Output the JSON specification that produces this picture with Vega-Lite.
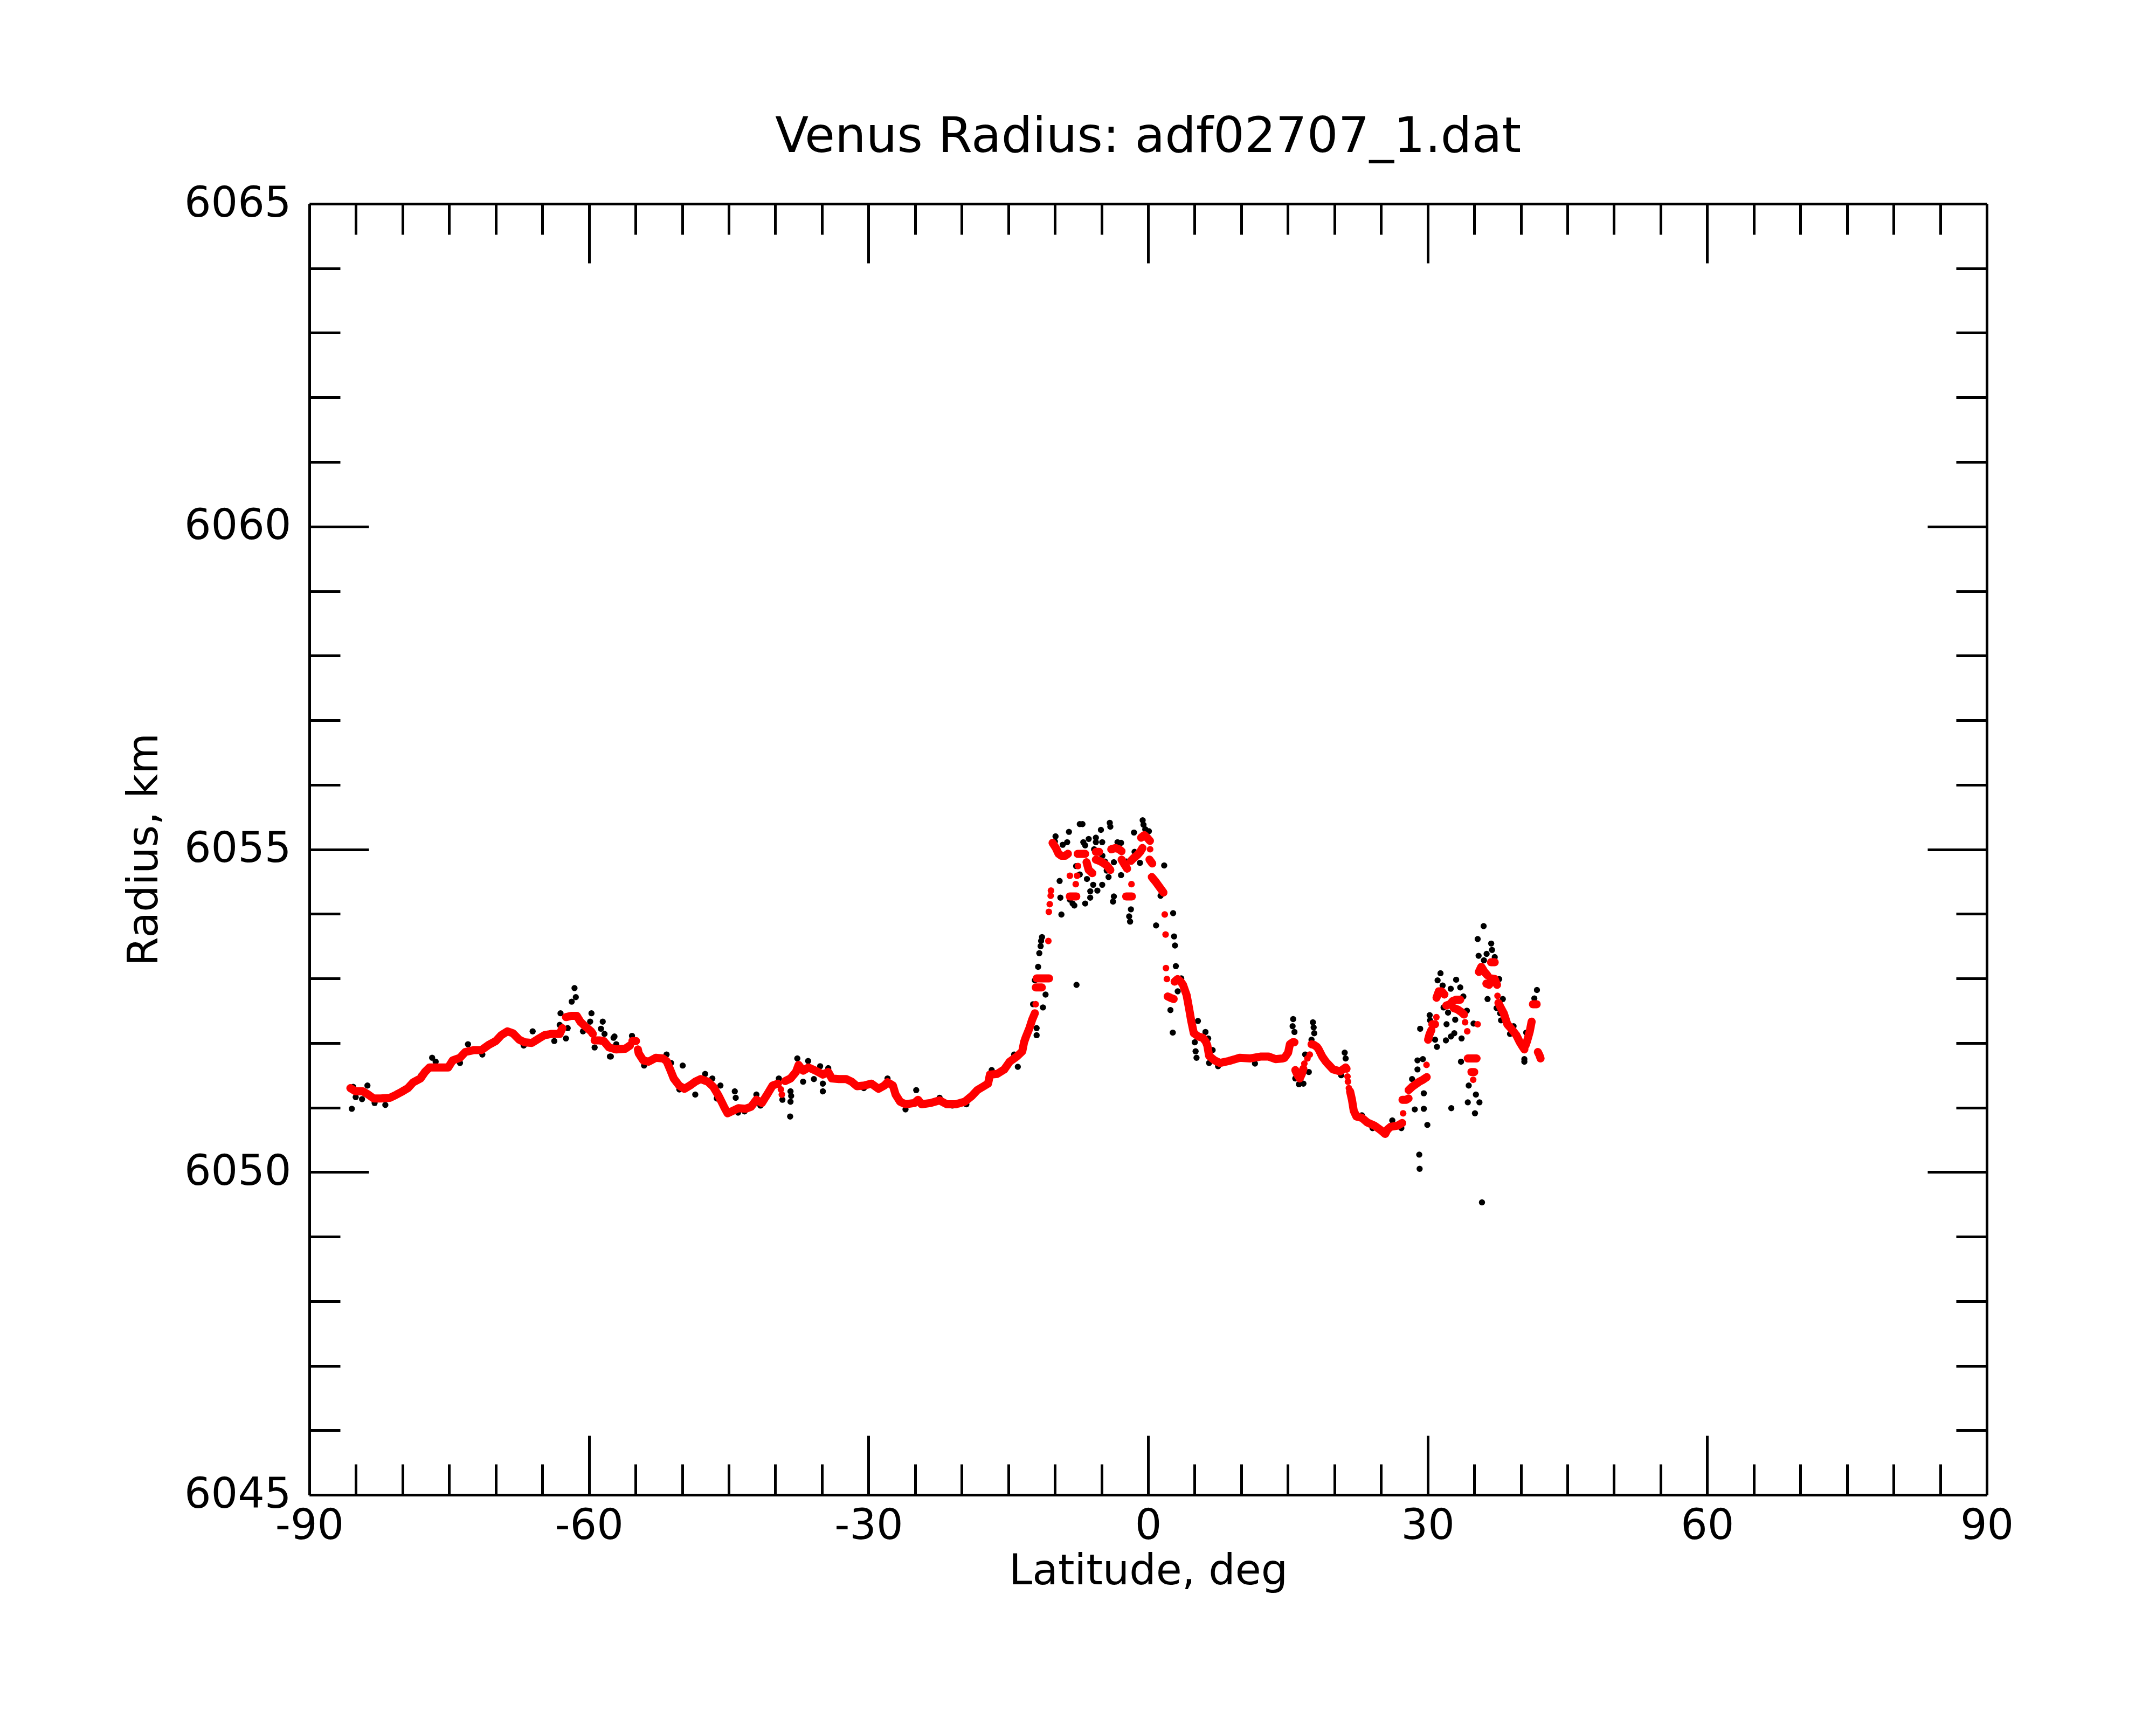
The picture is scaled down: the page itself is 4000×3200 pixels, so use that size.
{
  "$schema": "https://vega.github.io/schema/vega-lite/v6.json",
  "width": 3112,
  "height": 2395,
  "autosize": "none",
  "padding": {"left": 574, "top": 378, "right": 314, "bottom": 427},
  "background": "white",
  "config": {"view": {"stroke": null}, "font": "DejaVu Sans"},
  "title": {
    "text": "Venus Radius: adf02707_1.dat",
    "fontSize": 91,
    "font": "DejaVu Sans",
    "fontWeight": "normal",
    "color": "black",
    "anchor": "middle",
    "offset": 38
  },
  "datasets": {
    "raw": [
      {"lat": -85.45, "r": 6050.98}, {"lat": -85.30, "r": 6051.32}, {"lat": -85.03, "r": 6051.16}, {"lat": -84.35, "r": 6051.13},
      {"lat": -83.77, "r": 6051.34}, {"lat": -83.00, "r": 6051.07}, {"lat": -81.85, "r": 6051.04}, {"lat": -80.60, "r": 6051.22},
      {"lat": -78.00, "r": 6051.50}, {"lat": -76.83, "r": 6051.77}, {"lat": -76.45, "r": 6051.71}, {"lat": -73.84, "r": 6051.69},
      {"lat": -72.98, "r": 6051.98}, {"lat": -71.44, "r": 6051.82}, {"lat": -67.00, "r": 6051.96}, {"lat": -66.04, "r": 6052.18},
      {"lat": -65.00, "r": 6052.09}, {"lat": -63.72, "r": 6052.03}, {"lat": -63.14, "r": 6052.28}, {"lat": -63.05, "r": 6052.46},
      {"lat": -62.47, "r": 6052.07}, {"lat": -62.28, "r": 6052.23}, {"lat": -61.85, "r": 6052.64}, {"lat": -61.55, "r": 6052.85},
      {"lat": -61.41, "r": 6052.71}, {"lat": -60.64, "r": 6052.18}, {"lat": -59.87, "r": 6052.33}, {"lat": -59.73, "r": 6052.46},
      {"lat": -59.39, "r": 6051.93}, {"lat": -58.71, "r": 6052.22}, {"lat": -58.52, "r": 6052.33}, {"lat": -58.33, "r": 6052.14},
      {"lat": -57.75, "r": 6051.79}, {"lat": -57.36, "r": 6052.08}, {"lat": -57.65, "r": 6051.79}, {"lat": -57.26, "r": 6052.10},
      {"lat": -57.07, "r": 6051.98}, {"lat": -55.38, "r": 6052.11}, {"lat": -54.08, "r": 6051.65}, {"lat": -51.67, "r": 6051.82},
      {"lat": -51.19, "r": 6051.69}, {"lat": -50.30, "r": 6051.28}, {"lat": -49.94, "r": 6051.65}, {"lat": -48.59, "r": 6051.20},
      {"lat": -47.53, "r": 6051.52}, {"lat": -46.76, "r": 6051.45}, {"lat": -46.28, "r": 6051.14}, {"lat": -45.89, "r": 6051.34},
      {"lat": -44.35, "r": 6051.25}, {"lat": -44.25, "r": 6051.15}, {"lat": -44.00, "r": 6050.92}, {"lat": -43.30, "r": 6050.94},
      {"lat": -42.03, "r": 6051.20}, {"lat": -41.60, "r": 6051.03}, {"lat": -39.62, "r": 6051.45}, {"lat": -39.24, "r": 6051.12},
      {"lat": -38.41, "r": 6050.86}, {"lat": -38.37, "r": 6051.25}, {"lat": -38.30, "r": 6051.18}, {"lat": -38.37, "r": 6051.09},
      {"lat": -37.64, "r": 6051.76}, {"lat": -37.02, "r": 6051.40}, {"lat": -36.48, "r": 6051.72}, {"lat": -35.86, "r": 6051.44},
      {"lat": -35.19, "r": 6051.64}, {"lat": -34.90, "r": 6051.37}, {"lat": -34.90, "r": 6051.25}, {"lat": -34.32, "r": 6051.61},
      {"lat": -31.50, "r": 6051.35}, {"lat": -30.50, "r": 6051.30}, {"lat": -27.96, "r": 6051.45}, {"lat": -26.03, "r": 6050.97},
      {"lat": -24.88, "r": 6051.27}, {"lat": -22.37, "r": 6051.15}, {"lat": -21.00, "r": 6051.03}, {"lat": -19.50, "r": 6051.05},
      {"lat": -16.78, "r": 6051.58}, {"lat": -14.37, "r": 6051.82}, {"lat": -13.98, "r": 6051.63}, {"lat": -12.34, "r": 6052.60},
      {"lat": -12.15, "r": 6052.97}, {"lat": -11.96, "r": 6052.23}, {"lat": -11.96, "r": 6052.12}, {"lat": -11.28, "r": 6052.55},
      {"lat": -11.00, "r": 6052.75}, {"lat": -7.68, "r": 6052.90}, {"lat": -11.80, "r": 6053.18}, {"lat": -11.67, "r": 6053.39},
      {"lat": -11.53, "r": 6053.50}, {"lat": -11.48, "r": 6053.58}, {"lat": -11.38, "r": 6053.64}, {"lat": -10.00, "r": 6055.12},
      {"lat": -9.93, "r": 6055.20}, {"lat": -9.49, "r": 6054.51}, {"lat": -9.41, "r": 6054.25}, {"lat": -9.30, "r": 6053.99},
      {"lat": -9.16, "r": 6055.07}, {"lat": -8.68, "r": 6055.11}, {"lat": -8.49, "r": 6055.27}, {"lat": -8.39, "r": 6054.22},
      {"lat": -8.10, "r": 6054.16}, {"lat": -7.91, "r": 6054.13}, {"lat": -7.72, "r": 6054.74}, {"lat": -7.62, "r": 6054.92},
      {"lat": -7.33, "r": 6055.39}, {"lat": -7.33, "r": 6054.61}, {"lat": -7.04, "r": 6055.39}, {"lat": -6.95, "r": 6055.11},
      {"lat": -6.75, "r": 6055.06}, {"lat": -6.75, "r": 6054.16}, {"lat": -6.56, "r": 6054.73}, {"lat": -6.56, "r": 6054.54},
      {"lat": -6.37, "r": 6055.16}, {"lat": -6.21, "r": 6054.25}, {"lat": -6.20, "r": 6054.35}, {"lat": -5.89, "r": 6054.45},
      {"lat": -5.79, "r": 6055.00}, {"lat": -5.60, "r": 6055.18}, {"lat": -5.60, "r": 6055.11}, {"lat": -5.44, "r": 6054.36},
      {"lat": -5.06, "r": 6055.30}, {"lat": -4.92, "r": 6055.11}, {"lat": -4.92, "r": 6054.45}, {"lat": -4.90, "r": 6054.90},
      {"lat": -4.63, "r": 6054.81}, {"lat": -4.44, "r": 6054.67}, {"lat": -4.24, "r": 6054.57}, {"lat": -4.11, "r": 6055.41},
      {"lat": -4.05, "r": 6055.35}, {"lat": -3.76, "r": 6054.19}, {"lat": -3.67, "r": 6054.80}, {"lat": -3.67, "r": 6054.27},
      {"lat": -3.28, "r": 6055.11}, {"lat": -3.19, "r": 6055.07}, {"lat": -2.90, "r": 6055.10}, {"lat": -2.90, "r": 6054.60},
      {"lat": -2.32, "r": 6054.81}, {"lat": -2.03, "r": 6053.96}, {"lat": -1.93, "r": 6053.88}, {"lat": -1.84, "r": 6054.07},
      {"lat": -1.51, "r": 6055.26}, {"lat": -1.45, "r": 6054.96}, {"lat": -0.87, "r": 6054.79}, {"lat": -0.58, "r": 6055.45},
      {"lat": -0.49, "r": 6055.38}, {"lat": -0.30, "r": 6055.31}, {"lat": 0.09, "r": 6055.28}, {"lat": 0.86, "r": 6053.82},
      {"lat": 1.34, "r": 6054.40}, {"lat": 1.34, "r": 6054.28}, {"lat": 1.73, "r": 6054.75}, {"lat": 2.40, "r": 6052.51},
      {"lat": 2.69, "r": 6054.01}, {"lat": 2.79, "r": 6053.65}, {"lat": 2.89, "r": 6053.51}, {"lat": 2.98, "r": 6053.19},
      {"lat": 3.18, "r": 6052.80}, {"lat": 3.56, "r": 6053.00}, {"lat": 2.65, "r": 6052.16}, {"lat": 5.01, "r": 6052.01},
      {"lat": 5.10, "r": 6051.87}, {"lat": 5.20, "r": 6051.77}, {"lat": 5.35, "r": 6052.34}, {"lat": 6.16, "r": 6052.17},
      {"lat": 6.45, "r": 6052.07}, {"lat": 6.55, "r": 6051.69}, {"lat": 6.93, "r": 6051.89}, {"lat": 7.51, "r": 6051.64},
      {"lat": 11.47, "r": 6051.68}, {"lat": 15.51, "r": 6052.26}, {"lat": 15.57, "r": 6052.37}, {"lat": 15.71, "r": 6052.17},
      {"lat": 15.80, "r": 6051.45}, {"lat": 16.19, "r": 6051.36}, {"lat": 16.67, "r": 6051.37}, {"lat": 16.86, "r": 6051.82},
      {"lat": 17.25, "r": 6051.55}, {"lat": 17.54, "r": 6052.05}, {"lat": 17.69, "r": 6052.32}, {"lat": 17.77, "r": 6052.24},
      {"lat": 17.83, "r": 6052.15}, {"lat": 20.72, "r": 6051.50}, {"lat": 21.10, "r": 6051.85}, {"lat": 21.20, "r": 6051.76},
      {"lat": 22.94, "r": 6050.88}, {"lat": 24.09, "r": 6050.68}, {"lat": 26.21, "r": 6050.80}, {"lat": 27.18, "r": 6050.68},
      {"lat": 28.33, "r": 6051.44}, {"lat": 28.62, "r": 6050.97}, {"lat": 28.91, "r": 6051.73}, {"lat": 28.91, "r": 6051.59},
      {"lat": 29.10, "r": 6050.27}, {"lat": 29.14, "r": 6050.05}, {"lat": 29.20, "r": 6052.22}, {"lat": 29.49, "r": 6051.75},
      {"lat": 29.59, "r": 6051.22}, {"lat": 29.59, "r": 6050.98}, {"lat": 29.97, "r": 6050.73}, {"lat": 30.22, "r": 6052.43},
      {"lat": 30.26, "r": 6052.35}, {"lat": 30.80, "r": 6052.05}, {"lat": 31.00, "r": 6051.94}, {"lat": 31.07, "r": 6052.97},
      {"lat": 31.38, "r": 6053.08}, {"lat": 31.61, "r": 6052.89}, {"lat": 31.71, "r": 6052.55}, {"lat": 31.96, "r": 6052.04},
      {"lat": 32.03, "r": 6052.29}, {"lat": 32.19, "r": 6052.47}, {"lat": 32.48, "r": 6052.84}, {"lat": 32.50, "r": 6052.10},
      {"lat": 32.54, "r": 6050.99}, {"lat": 32.86, "r": 6052.15}, {"lat": 32.96, "r": 6052.36}, {"lat": 33.06, "r": 6052.98},
      {"lat": 33.50, "r": 6052.86}, {"lat": 33.58, "r": 6051.71}, {"lat": 33.64, "r": 6052.07}, {"lat": 33.83, "r": 6052.72},
      {"lat": 34.21, "r": 6052.50}, {"lat": 34.31, "r": 6051.08}, {"lat": 34.41, "r": 6051.34}, {"lat": 34.93, "r": 6052.30},
      {"lat": 35.08, "r": 6050.91}, {"lat": 35.18, "r": 6051.20}, {"lat": 35.37, "r": 6053.61}, {"lat": 35.47, "r": 6053.35},
      {"lat": 35.56, "r": 6051.08}, {"lat": 35.83, "r": 6049.53}, {"lat": 36.01, "r": 6053.81}, {"lat": 36.04, "r": 6053.28},
      {"lat": 36.33, "r": 6053.38}, {"lat": 36.43, "r": 6052.68}, {"lat": 36.82, "r": 6053.54}, {"lat": 36.91, "r": 6053.44},
      {"lat": 37.20, "r": 6053.33}, {"lat": 37.40, "r": 6052.54}, {"lat": 37.68, "r": 6052.99}, {"lat": 37.78, "r": 6052.46},
      {"lat": 37.88, "r": 6052.35}, {"lat": 38.07, "r": 6052.68}, {"lat": 38.84, "r": 6052.14}, {"lat": 39.22, "r": 6052.26},
      {"lat": 40.38, "r": 6051.75}, {"lat": 40.38, "r": 6051.71}, {"lat": 40.58, "r": 6052.16}, {"lat": 41.45, "r": 6052.69},
      {"lat": 41.73, "r": 6052.82}
    ],
    "fit": [
      {"lat": -85.60, "r": 6051.30, "seg": 1}, {"lat": -85.03, "r": 6051.25, "seg": 1}, {"lat": -84.26, "r": 6051.25, "seg": 1},
      {"lat": -83.68, "r": 6051.20, "seg": 1}, {"lat": -83.10, "r": 6051.14, "seg": 1}, {"lat": -82.33, "r": 6051.14, "seg": 1},
      {"lat": -81.36, "r": 6051.15, "seg": 1}, {"lat": -80.78, "r": 6051.19, "seg": 1}, {"lat": -80.01, "r": 6051.25, "seg": 1},
      {"lat": -79.43, "r": 6051.30, "seg": 1}, {"lat": -78.86, "r": 6051.39, "seg": 1}, {"lat": -78.08, "r": 6051.45, "seg": 1},
      {"lat": -77.60, "r": 6051.55, "seg": 1}, {"lat": -77.12, "r": 6051.62, "seg": 1}, {"lat": -76.16, "r": 6051.62, "seg": 1},
      {"lat": -75.10, "r": 6051.62, "seg": 1}, {"lat": -74.62, "r": 6051.73, "seg": 1}, {"lat": -73.84, "r": 6051.77, "seg": 1},
      {"lat": -73.27, "r": 6051.86, "seg": 1}, {"lat": -72.30, "r": 6051.89, "seg": 1}, {"lat": -71.53, "r": 6051.89, "seg": 1},
      {"lat": -70.76, "r": 6051.97, "seg": 1}, {"lat": -69.99, "r": 6052.03, "seg": 1}, {"lat": -69.41, "r": 6052.12, "seg": 1},
      {"lat": -68.74, "r": 6052.18, "seg": 1}, {"lat": -68.16, "r": 6052.15, "seg": 1}, {"lat": -67.48, "r": 6052.05, "seg": 1},
      {"lat": -66.90, "r": 6052.01, "seg": 1}, {"lat": -66.13, "r": 6052.00, "seg": 1}, {"lat": -65.36, "r": 6052.07, "seg": 1},
      {"lat": -64.78, "r": 6052.12, "seg": 1}, {"lat": -64.01, "r": 6052.14, "seg": 1}, {"lat": -63.14, "r": 6052.14, "seg": 1},
      {"lat": -62.85, "r": 6052.23, "seg": 1},
      {"lat": -62.47, "r": 6052.40, "seg": 2}, {"lat": -61.90, "r": 6052.42, "seg": 2}, {"lat": -61.31, "r": 6052.42, "seg": 2},
      {"lat": -60.93, "r": 6052.33, "seg": 2}, {"lat": -60.35, "r": 6052.25, "seg": 2}, {"lat": -59.77, "r": 6052.18, "seg": 2},
      {"lat": -59.58, "r": 6052.14, "seg": 2},
      {"lat": -59.39, "r": 6052.04, "seg": 3}, {"lat": -58.90, "r": 6052.04, "seg": 3}, {"lat": -58.42, "r": 6052.03, "seg": 3},
      {"lat": -57.84, "r": 6051.93, "seg": 3}, {"lat": -57.07, "r": 6051.90, "seg": 3}, {"lat": -56.11, "r": 6051.91, "seg": 3},
      {"lat": -55.60, "r": 6051.96, "seg": 3},
      {"lat": -55.34, "r": 6052.03, "seg": 4}, {"lat": -54.95, "r": 6052.03, "seg": 4},
      {"lat": -54.75, "r": 6051.90, "seg": 5}, {"lat": -54.66, "r": 6051.84, "seg": 5}, {"lat": -54.18, "r": 6051.73, "seg": 5},
      {"lat": -53.60, "r": 6051.71, "seg": 5}, {"lat": -52.83, "r": 6051.77, "seg": 5}, {"lat": -52.06, "r": 6051.76, "seg": 5},
      {"lat": -51.67, "r": 6051.72, "seg": 5}, {"lat": -51.29, "r": 6051.59, "seg": 5}, {"lat": -50.90, "r": 6051.45, "seg": 5},
      {"lat": -50.32, "r": 6051.34, "seg": 5}, {"lat": -49.75, "r": 6051.29, "seg": 5}, {"lat": -49.17, "r": 6051.34, "seg": 5},
      {"lat": -48.59, "r": 6051.40, "seg": 5}, {"lat": -48.01, "r": 6051.44, "seg": 5}, {"lat": -47.24, "r": 6051.40, "seg": 5},
      {"lat": -46.66, "r": 6051.32, "seg": 5}, {"lat": -46.08, "r": 6051.18, "seg": 5}, {"lat": -45.50, "r": 6051.01, "seg": 5},
      {"lat": -45.12, "r": 6050.91, "seg": 5}, {"lat": -44.54, "r": 6050.95, "seg": 5}, {"lat": -43.96, "r": 6050.99, "seg": 5},
      {"lat": -43.19, "r": 6050.98, "seg": 5}, {"lat": -42.61, "r": 6051.01, "seg": 5}, {"lat": -42.03, "r": 6051.12, "seg": 5},
      {"lat": -41.45, "r": 6051.07, "seg": 5}, {"lat": -40.88, "r": 6051.20, "seg": 5}, {"lat": -40.30, "r": 6051.34, "seg": 5},
      {"lat": -39.72, "r": 6051.37, "seg": 5},
      {"lat": -39.40, "r": 6051.28, "seg": 0}, {"lat": -39.30, "r": 6051.20, "seg": 0},
      {"lat": -38.95, "r": 6051.41, "seg": 6}, {"lat": -38.37, "r": 6051.45, "seg": 6}, {"lat": -37.79, "r": 6051.55, "seg": 6},
      {"lat": -37.50, "r": 6051.66, "seg": 6}, {"lat": -37.02, "r": 6051.57, "seg": 6}, {"lat": -36.44, "r": 6051.62, "seg": 6},
      {"lat": -35.67, "r": 6051.57, "seg": 6}, {"lat": -34.90, "r": 6051.51, "seg": 6}, {"lat": -34.32, "r": 6051.55, "seg": 6},
      {"lat": -33.94, "r": 6051.45, "seg": 6}, {"lat": -33.17, "r": 6051.44, "seg": 6}, {"lat": -32.40, "r": 6051.44, "seg": 6},
      {"lat": -31.82, "r": 6051.40, "seg": 6}, {"lat": -31.24, "r": 6051.33, "seg": 6}, {"lat": -30.47, "r": 6051.34, "seg": 6},
      {"lat": -29.70, "r": 6051.37, "seg": 6}, {"lat": -28.92, "r": 6051.29, "seg": 6}, {"lat": -28.30, "r": 6051.34, "seg": 6},
      {"lat": -27.96, "r": 6051.39, "seg": 6}, {"lat": -27.38, "r": 6051.34, "seg": 6}, {"lat": -27.09, "r": 6051.20, "seg": 6},
      {"lat": -26.61, "r": 6051.09, "seg": 6}, {"lat": -26.03, "r": 6051.05, "seg": 6}, {"lat": -25.07, "r": 6051.07, "seg": 6},
      {"lat": -24.68, "r": 6051.12, "seg": 6}, {"lat": -24.30, "r": 6051.05, "seg": 6}, {"lat": -23.33, "r": 6051.07, "seg": 6},
      {"lat": -22.37, "r": 6051.11, "seg": 6}, {"lat": -21.60, "r": 6051.05, "seg": 6}, {"lat": -20.64, "r": 6051.05, "seg": 6},
      {"lat": -19.67, "r": 6051.09, "seg": 6}, {"lat": -18.90, "r": 6051.18, "seg": 6}, {"lat": -18.32, "r": 6051.27, "seg": 6},
      {"lat": -17.74, "r": 6051.32, "seg": 6}, {"lat": -17.17, "r": 6051.37, "seg": 6}, {"lat": -16.97, "r": 6051.51, "seg": 6},
      {"lat": -16.20, "r": 6051.52, "seg": 6}, {"lat": -15.43, "r": 6051.59, "seg": 6}, {"lat": -14.85, "r": 6051.71, "seg": 6},
      {"lat": -14.08, "r": 6051.79, "seg": 6}, {"lat": -13.50, "r": 6051.87, "seg": 6}, {"lat": -13.31, "r": 6052.01, "seg": 6},
      {"lat": -13.12, "r": 6052.09, "seg": 6}, {"lat": -12.73, "r": 6052.23, "seg": 6}, {"lat": -12.44, "r": 6052.36, "seg": 6},
      {"lat": -12.15, "r": 6052.46, "seg": 6},
      {"lat": -12.06, "r": 6052.60, "seg": 0},
      {"lat": -12.05, "r": 6052.86, "seg": 7}, {"lat": -11.40, "r": 6052.86, "seg": 7},
      {"lat": -11.96, "r": 6053.00, "seg": 8}, {"lat": -11.30, "r": 6053.00, "seg": 8}, {"lat": -10.62, "r": 6053.00, "seg": 8},
      {"lat": -10.70, "r": 6053.58, "seg": 0}, {"lat": -10.65, "r": 6054.03, "seg": 0}, {"lat": -10.55, "r": 6054.15, "seg": 0},
      {"lat": -10.45, "r": 6054.28, "seg": 0}, {"lat": -10.42, "r": 6054.36, "seg": 0},
      {"lat": -10.25, "r": 6055.10, "seg": 9}, {"lat": -9.90, "r": 6055.02, "seg": 9}, {"lat": -9.60, "r": 6054.93, "seg": 9},
      {"lat": -9.30, "r": 6054.90, "seg": 9}, {"lat": -8.90, "r": 6054.90, "seg": 9}, {"lat": -8.60, "r": 6054.93, "seg": 9},
      {"lat": -8.40, "r": 6054.27, "seg": 10}, {"lat": -8.00, "r": 6054.27, "seg": 10}, {"lat": -7.70, "r": 6054.27, "seg": 10},
      {"lat": -8.39, "r": 6054.59, "seg": 0}, {"lat": -7.62, "r": 6054.59, "seg": 0}, {"lat": -7.76, "r": 6054.46, "seg": 0},
      {"lat": -7.52, "r": 6054.74, "seg": 0},
      {"lat": -7.55, "r": 6054.93, "seg": 12}, {"lat": -7.15, "r": 6054.93, "seg": 12}, {"lat": -6.75, "r": 6054.93, "seg": 12},
      {"lat": -6.60, "r": 6054.80, "seg": 13}, {"lat": -6.37, "r": 6054.68, "seg": 13}, {"lat": -5.98, "r": 6054.63, "seg": 13},
      {"lat": -5.60, "r": 6054.96, "seg": 14}, {"lat": -5.25, "r": 6054.96, "seg": 14},
      {"lat": -5.60, "r": 6054.84, "seg": 15}, {"lat": -5.20, "r": 6054.82, "seg": 15}, {"lat": -4.83, "r": 6054.79, "seg": 15},
      {"lat": -4.44, "r": 6054.75, "seg": 15}, {"lat": -4.05, "r": 6054.68, "seg": 15},
      {"lat": -3.95, "r": 6055.00, "seg": 16}, {"lat": -3.50, "r": 6055.02, "seg": 16}, {"lat": -3.10, "r": 6055.00, "seg": 16},
      {"lat": -2.85, "r": 6054.97, "seg": 16},
      {"lat": -2.84, "r": 6054.84, "seg": 17}, {"lat": -2.55, "r": 6054.77, "seg": 17}, {"lat": -2.25, "r": 6054.70, "seg": 17},
      {"lat": -2.35, "r": 6054.27, "seg": 18}, {"lat": -2.00, "r": 6054.27, "seg": 18}, {"lat": -1.74, "r": 6054.27, "seg": 18},
      {"lat": -1.78, "r": 6054.46, "seg": 0},
      {"lat": -1.84, "r": 6054.82, "seg": 19}, {"lat": -1.50, "r": 6054.87, "seg": 19}, {"lat": -1.16, "r": 6054.91, "seg": 19},
      {"lat": -0.85, "r": 6054.96, "seg": 19}, {"lat": -0.60, "r": 6055.02, "seg": 19},
      {"lat": -0.75, "r": 6055.18, "seg": 20}, {"lat": -0.40, "r": 6055.22, "seg": 20}, {"lat": -0.10, "r": 6055.18, "seg": 20},
      {"lat": 0.20, "r": 6055.13, "seg": 20},
      {"lat": 0.22, "r": 6055.00, "seg": 0},
      {"lat": 0.15, "r": 6054.84, "seg": 21}, {"lat": 0.45, "r": 6054.78, "seg": 21},
      {"lat": 0.40, "r": 6054.57, "seg": 22}, {"lat": 0.80, "r": 6054.50, "seg": 22}, {"lat": 1.20, "r": 6054.42, "seg": 22},
      {"lat": 1.65, "r": 6054.33, "seg": 22},
      {"lat": 1.79, "r": 6053.99, "seg": 0}, {"lat": 1.88, "r": 6053.68, "seg": 0}, {"lat": 1.92, "r": 6053.16, "seg": 0},
      {"lat": 2.02, "r": 6052.99, "seg": 0},
      {"lat": 2.10, "r": 6052.72, "seg": 23}, {"lat": 2.40, "r": 6052.70, "seg": 23}, {"lat": 2.75, "r": 6052.68, "seg": 23},
      {"lat": 2.85, "r": 6052.95, "seg": 24}, {"lat": 3.17, "r": 6052.99, "seg": 24}, {"lat": 3.50, "r": 6052.95, "seg": 24},
      {"lat": 3.75, "r": 6052.90, "seg": 24}, {"lat": 4.14, "r": 6052.74, "seg": 24}, {"lat": 4.43, "r": 6052.51, "seg": 24},
      {"lat": 4.62, "r": 6052.35, "seg": 24}, {"lat": 4.91, "r": 6052.15, "seg": 24}, {"lat": 5.39, "r": 6052.10, "seg": 24},
      {"lat": 5.87, "r": 6052.08, "seg": 24}, {"lat": 6.20, "r": 6052.02, "seg": 24}, {"lat": 6.36, "r": 6051.96, "seg": 24},
      {"lat": 6.55, "r": 6051.80, "seg": 24}, {"lat": 7.13, "r": 6051.73, "seg": 24}, {"lat": 7.71, "r": 6051.69, "seg": 24},
      {"lat": 8.67, "r": 6051.72, "seg": 24}, {"lat": 9.83, "r": 6051.77, "seg": 24}, {"lat": 10.98, "r": 6051.76, "seg": 24},
      {"lat": 12.14, "r": 6051.79, "seg": 24}, {"lat": 12.91, "r": 6051.79, "seg": 24}, {"lat": 13.68, "r": 6051.75, "seg": 24},
      {"lat": 14.45, "r": 6051.76, "seg": 24}, {"lat": 14.65, "r": 6051.77, "seg": 24}, {"lat": 15.03, "r": 6051.85, "seg": 24},
      {"lat": 15.22, "r": 6051.98, "seg": 24}, {"lat": 15.51, "r": 6052.01, "seg": 24}, {"lat": 15.71, "r": 6052.01, "seg": 24},
      {"lat": 15.80, "r": 6051.58, "seg": 25}, {"lat": 16.05, "r": 6051.50, "seg": 25}, {"lat": 16.28, "r": 6051.45, "seg": 25},
      {"lat": 16.50, "r": 6051.52, "seg": 25}, {"lat": 16.67, "r": 6051.60, "seg": 25},
      {"lat": 16.77, "r": 6051.68, "seg": 0}, {"lat": 17.10, "r": 6051.76, "seg": 0}, {"lat": 17.35, "r": 6051.82, "seg": 0},
      {"lat": 17.54, "r": 6051.98, "seg": 26}, {"lat": 17.80, "r": 6051.97, "seg": 26}, {"lat": 18.12, "r": 6051.94, "seg": 26},
      {"lat": 18.31, "r": 6051.90, "seg": 26}, {"lat": 18.69, "r": 6051.79, "seg": 26}, {"lat": 19.08, "r": 6051.71, "seg": 26},
      {"lat": 19.27, "r": 6051.68, "seg": 26}, {"lat": 19.85, "r": 6051.59, "seg": 26}, {"lat": 20.62, "r": 6051.56, "seg": 26},
      {"lat": 21.20, "r": 6051.62, "seg": 26}, {"lat": 21.30, "r": 6051.60, "seg": 26},
      {"lat": 21.40, "r": 6051.48, "seg": 0}, {"lat": 21.45, "r": 6051.40, "seg": 0}, {"lat": 21.55, "r": 6051.30, "seg": 0},
      {"lat": 21.68, "r": 6051.25, "seg": 27}, {"lat": 21.88, "r": 6051.12, "seg": 27}, {"lat": 22.07, "r": 6050.95, "seg": 27},
      {"lat": 22.36, "r": 6050.86, "seg": 27}, {"lat": 22.94, "r": 6050.84, "seg": 27}, {"lat": 23.51, "r": 6050.77, "seg": 27},
      {"lat": 24.29, "r": 6050.72, "seg": 27}, {"lat": 24.96, "r": 6050.65, "seg": 27}, {"lat": 25.44, "r": 6050.59, "seg": 27},
      {"lat": 25.70, "r": 6050.66, "seg": 27}, {"lat": 26.02, "r": 6050.70, "seg": 27}, {"lat": 26.79, "r": 6050.72, "seg": 27},
      {"lat": 27.27, "r": 6050.76, "seg": 27},
      {"lat": 27.37, "r": 6050.91, "seg": 0},
      {"lat": 27.30, "r": 6051.12, "seg": 28}, {"lat": 27.70, "r": 6051.12, "seg": 28}, {"lat": 27.95, "r": 6051.14, "seg": 28},
      {"lat": 27.96, "r": 6051.27, "seg": 29}, {"lat": 28.33, "r": 6051.32, "seg": 29}, {"lat": 28.72, "r": 6051.36, "seg": 29},
      {"lat": 29.10, "r": 6051.40, "seg": 29}, {"lat": 29.49, "r": 6051.43, "seg": 29}, {"lat": 29.90, "r": 6051.47, "seg": 29},
      {"lat": 29.88, "r": 6051.66, "seg": 0},
      {"lat": 30.05, "r": 6052.05, "seg": 30}, {"lat": 30.20, "r": 6052.13, "seg": 30}, {"lat": 30.40, "r": 6052.20, "seg": 30},
      {"lat": 30.50, "r": 6052.29, "seg": 31}, {"lat": 30.80, "r": 6052.29, "seg": 31},
      {"lat": 30.94, "r": 6052.40, "seg": 0},
      {"lat": 30.95, "r": 6052.70, "seg": 32}, {"lat": 31.20, "r": 6052.80, "seg": 32}, {"lat": 31.50, "r": 6052.80, "seg": 32},
      {"lat": 31.80, "r": 6052.75, "seg": 32},
      {"lat": 32.00, "r": 6052.58, "seg": 33}, {"lat": 32.40, "r": 6052.60, "seg": 33}, {"lat": 32.70, "r": 6052.65, "seg": 33},
      {"lat": 33.06, "r": 6052.67, "seg": 33}, {"lat": 33.50, "r": 6052.67, "seg": 33},
      {"lat": 32.80, "r": 6052.54, "seg": 34}, {"lat": 33.20, "r": 6052.52, "seg": 34}, {"lat": 33.60, "r": 6052.48, "seg": 34},
      {"lat": 33.90, "r": 6052.44, "seg": 34},
      {"lat": 34.02, "r": 6052.32, "seg": 0}, {"lat": 34.25, "r": 6052.18, "seg": 0},
      {"lat": 34.31, "r": 6051.76, "seg": 35}, {"lat": 34.79, "r": 6051.76, "seg": 35}, {"lat": 35.25, "r": 6051.76, "seg": 35},
      {"lat": 35.37, "r": 6052.29, "seg": 0},
      {"lat": 34.70, "r": 6051.55, "seg": 36}, {"lat": 35.00, "r": 6051.55, "seg": 36},
      {"lat": 34.89, "r": 6051.43, "seg": 0},
      {"lat": 35.50, "r": 6053.10, "seg": 37}, {"lat": 35.76, "r": 6053.18, "seg": 37}, {"lat": 36.10, "r": 6053.10, "seg": 37},
      {"lat": 36.40, "r": 6053.05, "seg": 37},
      {"lat": 36.80, "r": 6053.25, "seg": 38}, {"lat": 37.20, "r": 6053.25, "seg": 38},
      {"lat": 36.30, "r": 6052.92, "seg": 39}, {"lat": 36.60, "r": 6052.90, "seg": 39}, {"lat": 36.85, "r": 6053.00, "seg": 39},
      {"lat": 37.20, "r": 6052.99, "seg": 39}, {"lat": 37.45, "r": 6052.90, "seg": 39},
      {"lat": 37.50, "r": 6052.73, "seg": 0},
      {"lat": 37.60, "r": 6052.62, "seg": 40}, {"lat": 37.80, "r": 6052.56, "seg": 40}, {"lat": 38.17, "r": 6052.46, "seg": 40},
      {"lat": 38.55, "r": 6052.29, "seg": 40}, {"lat": 39.03, "r": 6052.21, "seg": 40}, {"lat": 39.52, "r": 6052.12, "seg": 40},
      {"lat": 39.90, "r": 6052.01, "seg": 40}, {"lat": 40.20, "r": 6051.94, "seg": 40}, {"lat": 40.38, "r": 6051.90, "seg": 40},
      {"lat": 40.50, "r": 6051.96, "seg": 41}, {"lat": 40.67, "r": 6052.03, "seg": 41}, {"lat": 40.96, "r": 6052.18, "seg": 41},
      {"lat": 41.16, "r": 6052.33, "seg": 41},
      {"lat": 41.30, "r": 6052.60, "seg": 42}, {"lat": 41.55, "r": 6052.60, "seg": 42}, {"lat": 41.70, "r": 6052.60, "seg": 42},
      {"lat": 41.83, "r": 6051.86, "seg": 43}, {"lat": 42.00, "r": 6051.81, "seg": 43}, {"lat": 42.12, "r": 6051.76, "seg": 43}
    ]
  },
  "layer": [
    {
      "data": {"name": "raw"},
      "mark": {"type": "circle", "color": "black", "size": 130, "opacity": 1},
      "encoding": {
        "x": {
          "field": "lat", "type": "quantitative",
          "scale": {"domain": [-90, 90], "nice": false, "zero": false},
          "axis": {
            "orient": "bottom",
            "values": [-90, -85, -80, -75, -70, -65, -60, -55, -50, -45, -40, -35, -30, -25, -20, -15, -10, -5, 0, 5, 10, 15, 20, 25, 30, 35, 40, 45, 50, 55, 60, 65, 70, 75, 80, 85, 90],
            "tickSize": {"condition": {"test": "datum.value % 30 === 0", "value": -110}, "value": -57},
            "tickWidth": 5, "tickColor": "black",
            "domainColor": "black", "domainWidth": 5,
            "labelExpr": "datum.value % 30 === 0 ? '' + datum.value : ''",
            "labelFont": "DejaVu Sans", "labelFontSize": 78, "labelColor": "black",
            "labelPadding": 129, "labelFlush": false, "labelOverlap": false, "labelLimit": 0,
            "grid": false,
            "title": "Latitude, deg", "titleFont": "DejaVu Sans", "titleFontSize": 78,
            "titleFontWeight": "normal", "titleColor": "black", "titlePadding": -47
          }
        },
        "y": {
          "field": "r", "type": "quantitative",
          "scale": {"domain": [6045, 6065], "nice": false, "zero": false},
          "axis": {
            "orient": "left",
            "values": [6045, 6046, 6047, 6048, 6049, 6050, 6051, 6052, 6053, 6054, 6055, 6056, 6057, 6058, 6059, 6060, 6061, 6062, 6063, 6064, 6065],
            "tickSize": {"condition": {"test": "datum.value % 5 === 0", "value": -110}, "value": -57},
            "tickWidth": 5, "tickColor": "black",
            "domainColor": "black", "domainWidth": 5,
            "labelExpr": "datum.value % 5 === 0 ? '' + datum.value : ''",
            "labelFont": "DejaVu Sans", "labelFontSize": 78, "labelColor": "black",
            "labelPadding": 144, "labelFlush": false, "labelOverlap": false, "labelLimit": 0,
            "grid": false,
            "title": "Radius, km", "titleFont": "DejaVu Sans", "titleFontSize": 78,
            "titleFontWeight": "normal", "titleColor": "black", "titlePadding": 67
          }
        }
      }
    },
    {
      "data": {"name": "fit"},
      "transform": [{"filter": "datum.seg > 0"}],
      "mark": {"type": "line", "color": "red", "strokeWidth": 15, "strokeCap": "round", "strokeJoin": "round"},
      "encoding": {
        "x": {"field": "lat", "type": "quantitative", "scale": {"domain": [-90, 90], "nice": false, "zero": false}, "axis": null},
        "y": {"field": "r", "type": "quantitative", "scale": {"domain": [6045, 6065], "nice": false, "zero": false}, "axis": null},
        "detail": {"field": "seg", "type": "nominal"}
      }
    },
    {
      "data": {"name": "fit"},
      "mark": {"type": "circle", "color": "red", "size": 150, "opacity": 1},
      "encoding": {
        "x": {
          "field": "lat", "type": "quantitative",
          "scale": {"domain": [-90, 90], "nice": false, "zero": false},
          "axis": {
            "orient": "top",
            "values": [-90, -85, -80, -75, -70, -65, -60, -55, -50, -45, -40, -35, -30, -25, -20, -15, -10, -5, 0, 5, 10, 15, 20, 25, 30, 35, 40, 45, 50, 55, 60, 65, 70, 75, 80, 85, 90],
            "tickSize": {"condition": {"test": "datum.value % 30 === 0", "value": -110}, "value": -57},
            "tickWidth": 5, "tickColor": "black",
            "domainColor": "black", "domainWidth": 5,
            "labels": false, "grid": false, "title": null
          }
        },
        "y": {
          "field": "r", "type": "quantitative",
          "scale": {"domain": [6045, 6065], "nice": false, "zero": false},
          "axis": {
            "orient": "right",
            "values": [6045, 6046, 6047, 6048, 6049, 6050, 6051, 6052, 6053, 6054, 6055, 6056, 6057, 6058, 6059, 6060, 6061, 6062, 6063, 6064, 6065],
            "tickSize": {"condition": {"test": "datum.value % 5 === 0", "value": -110}, "value": -57},
            "tickWidth": 5, "tickColor": "black",
            "domainColor": "black", "domainWidth": 5,
            "labels": false, "grid": false, "title": null
          }
        }
      }
    }
  ],
  "resolve": {"axis": {"x": "independent", "y": "independent"}}
}
